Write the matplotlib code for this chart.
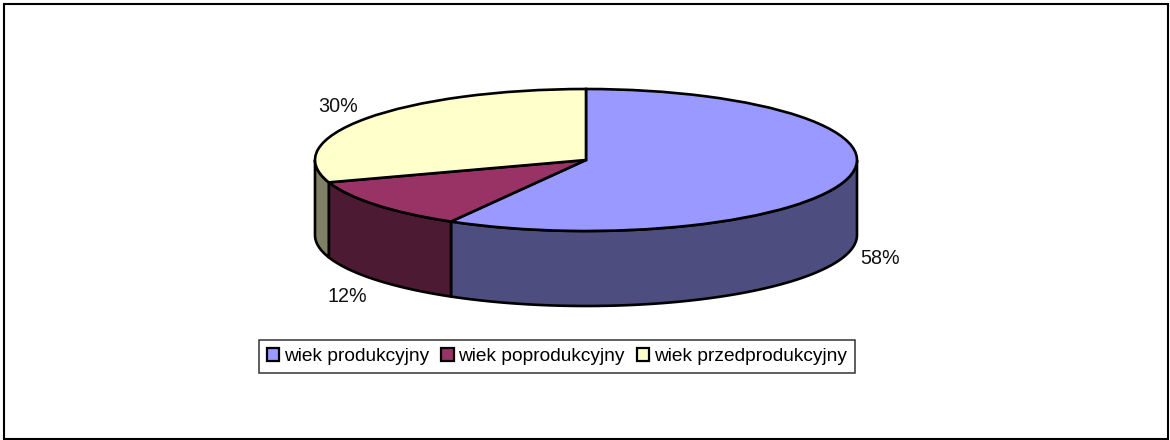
import numpy as np
import matplotlib
matplotlib.use("Agg")
import matplotlib.pyplot as plt
from matplotlib.patches import Rectangle

categories = ["wiek produkcyjny", "wiek poprodukcyjny", "wiek przedprodukcyjny"]
values = [58.3, 11.6, 30.1]
top_colors = ["#9999FF", "#993366", "#FFFFCC"]
side_colors = ["#4D4D80", "#4D1A33", "#808066"]

W, H = 1170, 440
plt.rcParams["font.family"] = ["Liberation Sans", "DejaVu Sans"]
fig = plt.figure(figsize=(W / 100, H / 100), dpi=100, facecolor="white")

# outer frame
fig.add_artist(Rectangle((3.5 / W, 1 - 438.5 / H), 1164.5 / W, 434 / H,
                         transform=fig.transFigure, fill=False, ec="black", lw=1.5))

# axes whose unit circle maps on the pie's top ellipse
cx, cy, rx, ry, depth_px = 586, 160, 271, 71, 75
ax = fig.add_axes([(cx - rx) / W, 1 - (cy + ry) / H, 2 * rx / W, 2 * ry / H])
depth = depth_px / ry
lw = 1.9

fractions = np.cumsum([0] + values) / sum(values)
for i in range(len(values)):
    t = np.linspace(fractions[i], fractions[i + 1], 300) * 2 * np.pi
    # visible wall only: front half of the ellipse
    t = t[(t >= np.pi / 2) & (t <= 3 * np.pi / 2)]
    if len(t) == 0:
        continue
    x, y = np.sin(t), np.cos(t)
    ax.fill(np.r_[x, x[::-1]], np.r_[y, y[::-1] - depth], fc=side_colors[i],
            ec="black", lw=lw, clip_on=False, zorder=1, joinstyle="round")

wedges, _ = ax.pie(values, colors=top_colors, startangle=90, counterclock=False,
                   radius=1, center=(0, 0),
                   wedgeprops=dict(ec="black", lw=lw, clip_on=False, zorder=2))
for w in wedges:
    w.set_zorder(2)
ax.set_aspect("auto")
ax.set_xlim(-1, 1)
ax.set_ylim(-1, 1)
ax.axis("off")

# percentage labels at pixel positions of the reference
label_pos = [(880, 259), (347, 296), (338, 106)]
for v, (px, py) in zip(values, label_pos):
    fig.text(px / W, 1 - py / H, f"{v:.0f}%", ha="center", va="center",
             fontsize=14.2, color="#111111")

handles = [Rectangle((0, 0), 1, 1, fc=c, ec="black", lw=1.6) for c in top_colors]
leg = fig.legend(handles, categories, ncol=3, loc="center",
                 bbox_to_anchor=(557 / W, 1 - 356.5 / H), fontsize=13.75,
                 frameon=True, fancybox=False, edgecolor="#333333", framealpha=1,
                 handlelength=0.63, handleheight=0.63, handletextpad=0.25,
                 columnspacing=0.65, borderpad=0.42, borderaxespad=0)
leg.get_frame().set_linewidth(1.1)

fig.savefig("out.png", dpi=100, facecolor="white")
